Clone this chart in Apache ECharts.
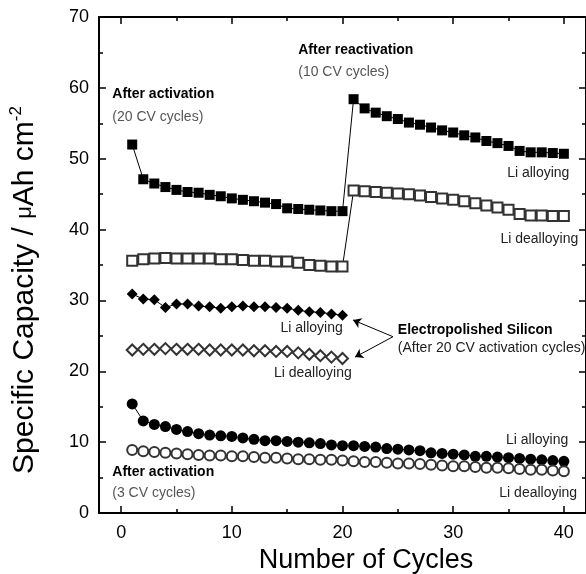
<!DOCTYPE html>
<html>
<head>
<meta charset="utf-8">
<script src="https://cdn.jsdelivr.net/npm/echarts@6/dist/echarts.min.js"></script>
<style>
  html, body { margin: 0; padding: 0; background: #fff; }
  #main { width: 586px; height: 574px; }
</style>
</head>
<body>
<div id="main"></div>
<script>
// cycle numbers
var cycles = [1, 2, 3, 4, 5, 6, 7, 8, 9, 10, 11, 12, 13, 14, 15, 16, 17, 18, 19, 20,
              21, 22, 23, 24, 25, 26, 27, 28, 29, 30, 31, 32, 33, 34, 35, 36, 37, 38, 39, 40]

// porous Si, 20 CV activation then 10 CV reactivation (squares)
var sqAlloy = [52.0, 47.1, 46.5, 46.0, 45.6, 45.3, 45.2, 44.9, 44.7, 44.4, 44.2, 44.0, 43.8, 43.6, 43.0, 42.9, 42.8, 42.7, 42.6, 42.6,
               58.4, 57.1, 56.5, 56.0, 55.6, 55.1, 54.8, 54.4, 54.0, 53.7, 53.3, 53.0, 52.5, 52.2, 51.8, 51.1, 50.9, 50.9, 50.8, 50.7]
var sqDealloy = [35.6, 35.8, 35.9, 36.0, 35.9, 35.9, 35.9, 35.9, 35.8, 35.8, 35.7, 35.6, 35.6, 35.5, 35.5, 35.3, 35.0, 34.9, 34.8, 34.8,
                 45.5, 45.4, 45.3, 45.2, 45.1, 45.0, 44.8, 44.6, 44.4, 44.2, 44.0, 43.7, 43.4, 43.1, 42.8, 42.2, 42.0, 42.0, 41.9, 41.9]

// electropolished Si (diamonds), cycles 1-20
var diAlloy = [30.9, 30.2, 30.1, 29.0, 29.5, 29.5, 29.2, 29.1, 28.9, 29.1, 29.2, 29.1, 29.1, 29.0, 28.9, 28.6, 28.4, 28.3, 28.1, 27.9]
var diDealloy = [23.0, 23.1, 23.1, 23.2, 23.1, 23.1, 23.1, 23.0, 23.0, 23.0, 23.0, 22.9, 22.9, 22.8, 22.8, 22.6, 22.4, 22.2, 22.0, 21.8]

// 3 CV activation (circles)
var ciAlloy = [15.4, 13.0, 12.5, 12.2, 11.8, 11.5, 11.2, 11.0, 10.9, 10.8, 10.6, 10.4, 10.2, 10.2, 10.1, 10.0, 9.9, 9.8, 9.6, 9.5,
               9.5, 9.4, 9.3, 9.1, 9.0, 8.9, 8.8, 8.5, 8.4, 8.3, 8.2, 8.0, 8.0, 7.9, 7.8, 7.7, 7.6, 7.5, 7.4, 7.3]
var ciDealloy = [8.9, 8.7, 8.6, 8.5, 8.4, 8.3, 8.2, 8.1, 8.1, 8.0, 8.0, 7.9, 7.8, 7.8, 7.7, 7.6, 7.6, 7.5, 7.5, 7.4,
                 7.3, 7.2, 7.2, 7.1, 7.0, 7.0, 6.9, 6.8, 6.7, 6.6, 6.6, 6.5, 6.4, 6.4, 6.3, 6.2, 6.1, 6.1, 6.0, 5.9]

var xMajor = [0, 10, 20, 30, 40]
var xMinor = [5, 15, 25, 35]

// text notes, in data units: [text, x, y, align, style]
var notes = [
    ['After activation', -0.8, 59.1, 'left', 'b'],
    ['(20 CV cycles)', -0.8, 55.9, 'left', 'g'],
    ['After reactivation', 16.0, 65.3, 'left', 'b'],
    ['(10 CV cycles)', 16.0, 62.2, 'left', 'g'],
    ['Li alloying', 40.5, 48.0, 'right', 'n'],
    ['Li dealloying', 41.3, 38.7, 'right', 'n'],
    ['Li alloying', 14.4, 26.15, 'left', 'n'],
    ['Li dealloying', 13.8, 19.75, 'left', 'n'],
    ['Electropolished Silicon', 25.0, 25.8, 'left', 'b'],
    ['(After 20 CV activation cycles)', 25.0, 23.2, 'left', 'n'],
    ['Li alloying', 40.4, 10.3, 'right', 'n'],
    ['Li dealloying', 41.2, 2.86, 'right', 'n'],
    ['After activation', -0.8, 5.83, 'left', 'b'],
    ['(3 CV cycles)', -0.8, 2.78, 'left', 'g']
]
// arrows from the electropolished label to the diamond series
var arrowFrom = [24.56, 24.88]
var arrowTo = [[20.95, 27.24], [21.13, 22.0]]

function pairs(vals) {
    var out = []
    for (var i = 0; i < vals.length; i++) {
        out.push([cycles[i], vals[i]])
    }
    return out
}

function ser(name, vals, symbol, size, empty) {
    return {
        name: name,
        type: 'line',
        data: pairs(vals),
        symbol: symbol,
        symbolSize: size,
        showSymbol: true,
        animation: false,
        lineStyle: { color: '#000', width: 1 },
        itemStyle: empty ? { color: '#333', borderWidth: 1 }
                         : { color: '#000', borderWidth: 0 },
        z: 3
    }
}

var font = 'Liberation Sans, Arial, sans-serif'

function xAx(pos, vals, len, labels, line) {
    return {
        type: 'value', position: pos, min: -2, max: 42,
        axisLine: { show: line, onZero: false, lineStyle: { color: '#000', width: 2 } },
        axisTick: { show: true, inside: true, length: len, customValues: vals, lineStyle: { color: '#000', width: 1.5 } },
        axisLabel: { show: labels, customValues: vals, color: '#000', fontSize: 18, fontFamily: font, margin: 11 },
        splitLine: { show: false }
    }
}
function yAx(pos, labels) {
    return {
        type: 'value', position: pos, min: 0, max: 70, interval: 10,
        axisLine: { show: true, onZero: false, lineStyle: { color: '#000', width: 2 } },
        axisTick: { show: true, inside: true, length: 7, lineStyle: { color: '#000', width: 1.5 } },
        minorTick: { show: true, splitNumber: 2, length: 4, lineStyle: { color: '#000', width: 1.5 } },
        axisLabel: { show: labels, color: '#000', fontSize: 18, fontFamily: font, margin: 10 },
        splitLine: { show: false }
    }
}

var xAxes = [
    xAx('bottom', xMajor, 7, true, true),
    xAx('bottom', xMinor, 4, false, false),
    xAx('top', xMajor, 7, false, true),
    xAx('top', xMinor, 4, false, false)
]
xAxes[0].name = 'Number of Cycles'
xAxes[0].nameLocation = 'middle'
xAxes[0].nameGap = 34
xAxes[0].nameTextStyle = { color: '#000', fontSize: 27, fontFamily: font, padding: [0, 0, 0, 47] }

var yAxes = [yAx('left', true), yAx('right', false)]
yAxes[0].name = '{t|Specific Capacity / }{mu|\u03bc}{t|Ah cm}{sup|-2}'
yAxes[0].nameLocation = 'middle'
yAxes[0].nameGap = 57
yAxes[0].nameTextStyle = {
    padding: [0, 50, 0, 0],
    rich: {
        t: { color: '#000', fontSize: 30, fontFamily: font },
        mu: { color: '#000', fontSize: 22, fontFamily: font },
        sup: { color: '#000', fontSize: 17, fontFamily: font, verticalAlign: 'top', padding: [0, 0, 17, 0] }
    }
}

var arrowData = []
for (var a = 0; a < arrowTo.length; a++) {
    arrowData.push({ coords: [arrowFrom, arrowTo[a]] })
}

var series = [
    ser('sqAlloy', sqAlloy, 'rect', 10, false),
    ser('sqDealloy', sqDealloy, 'emptyRect', 10, true),
    ser('diAlloy', diAlloy, 'diamond', 11, false),
    ser('diDealloy', diDealloy, 'emptyDiamond', 11, true),
    ser('ciAlloy', ciAlloy, 'circle', 11, false),
    ser('ciDealloy', ciDealloy, 'emptyCircle', 10, true),
    {
        type: 'lines', coordinateSystem: 'cartesian2d', xAxisIndex: 0, yAxisIndex: 0,
        symbol: ['none', 'arrow'], symbolSize: 8, animation: false,
        lineStyle: { color: '#000', width: 1, opacity: 1 },
        data: arrowData
    }
]

var myChart = echarts.init(document.getElementById('main'))
var option = {
    backgroundColor: '#fff',
    animation: false,
    grid: { left: 99, top: 17, width: 487, height: 496, outerBoundsMode: 'none' },
    xAxis: xAxes,
    yAxis: yAxes,
    series: series
}
myChart.setOption(option)

// place the notes once the axes exist
var graphics = []
for (var n = 0; n < notes.length; n++) {
    var nt = notes[n]
    var p = myChart.convertToPixel({ xAxisIndex: 0, yAxisIndex: 0 }, [nt[1], nt[2]])
    graphics.push({
        type: 'text', x: p[0], y: p[1], silent: true, z: 10,
        style: {
            text: nt[0], align: nt[3], verticalAlign: 'middle',
            fontFamily: font, fontSize: 14,
            fontWeight: nt[4] == 'b' ? 'bold' : 'normal',
            fill: nt[4] == 'g' ? '#555' : (nt[4] == 'b' ? '#000' : '#222')
        }
    })
}
myChart.setOption({ graphic: graphics })
</script>
</body>
</html>
